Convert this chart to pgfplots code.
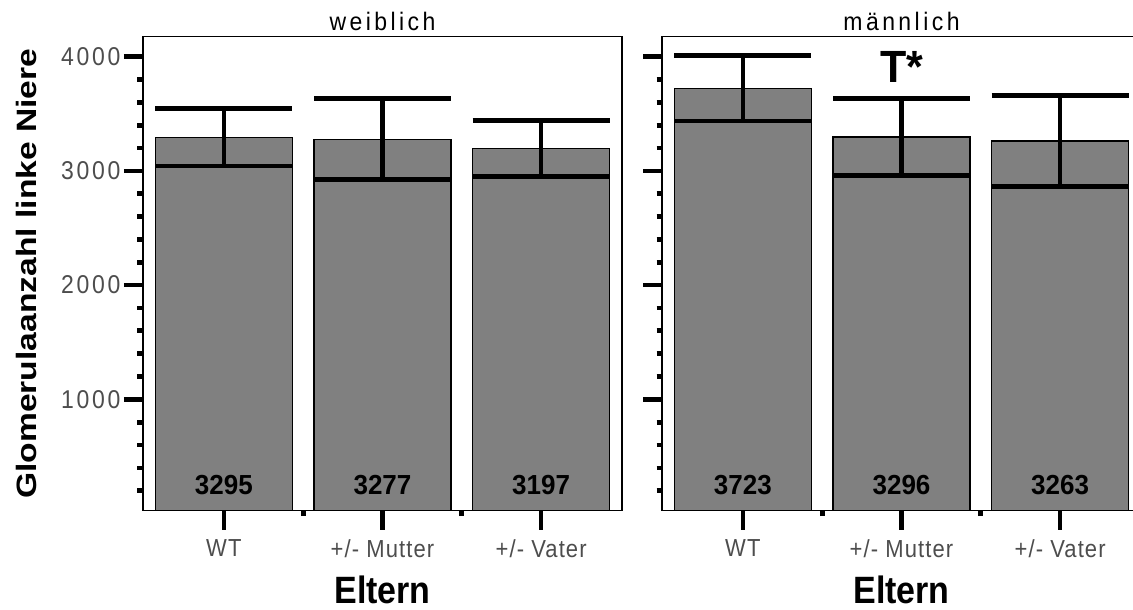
\documentclass[border=0pt]{standalone}
\usepackage{fontspec}
\setmainfont{Liberation Sans}
\newfontfamily\tickfont[LetterSpace=5]{Liberation Sans}
\newfontfamily\ytickfont[LetterSpace=12]{Liberation Sans}
\newfontfamily\titlefont[LetterSpace=15]{Liberation Sans}
\usepackage{pgfplots}
\pgfplotsset{compat=1.18}
\usepackage{pgfplotstable}
\definecolor{bargray}{RGB}{128,128,128}
\definecolor{ticktext}{RGB}{77,77,77}

\pgfplotstableread{
x y err
0 3295 252
1 3277 355
2 3197 246
}\weiblich
\pgfplotstableread{
x y err
0 3723 285
1 3296 335
2 3263 400
}\maennlich

\pgfplotsset{
 panel/.style={
  scale only axis, width=479pt, height=474pt,
  xmin=-0.51, xmax=2.51, ymin=25, ymax=4175,
  axis line style={line width=1.3pt, black},
  tick pos=left, tick align=outside,
  xtick={0,1,2}, xticklabels={WT,+/- Mutter,+/- Vater},
  minor xtick={0.5,1.5},
  ytick={1000,2000,3000,4000},
  minor ytick={200,400,600,800,1200,1400,1600,1800,2200,2400,2600,2800,3200,3400,3600,3800},
  major tick length=19pt, minor tick length=5.5pt,
  tick style={line width=4.7pt, black},
  xticklabel style={font=\tickfont\fontsize{22}{22}\selectfont, text=ticktext, yscale=1.12, yshift=-5pt},
  yticklabel style={font=\ytickfont\fontsize{23}{23}\selectfont, text=ticktext, yscale=1.12},
  /pgf/number format/assume math mode=true,
  /pgf/number format/1000 sep={},
  every axis title/.style={at={(axis description cs:0.5,1)}, anchor=base, yshift=6pt, yscale=1.1, font=\titlefont\fontsize{23}{23}\selectfont},
  every axis x label/.style={at={(axis description cs:0.5,-0.1667)}, anchor=center, yscale=1.12, font=\bfseries\fontsize{34}{34}\selectfont},
  every axis y label/.style={at={(axis description cs:-0.244,0.5)}, rotate=90, xscale=1.2, anchor=center, font=\bfseries\fontsize{28}{28}\selectfont},
  xlabel={Eltern},
 },
 barplot/.style={ybar, bar width=137pt, fill=bargray, draw=black, line width=1.3pt,
   error bars/.cd, y dir=both, y explicit,
   error bar style={line width=4.7pt, black},
   error mark options={rotate=90, line width=4.7pt, mark size=68.5pt, black}},
 vallabel/.style={only marks, mark=none, point meta=explicit symbolic, nodes near coords,
   every node near coord/.append style={anchor=center, yscale=1.06, font=\bfseries\fontsize{26}{26}\selectfont, text=black}},
}

\begin{document}
\begin{tikzpicture}
\useasboundingbox (0,0) rectangle (1133pt,-610pt);
\begin{axis}[panel, at={(143pt,-510.7pt)}, anchor=south west,
  title={weiblich}, ylabel={Glomerulaanzahl linke Niere}]
\addplot[barplot] table[x=x, y=y, y error=err] {\weiblich};
\addplot[vallabel] coordinates {(0,246) [3295] (1,246) [3277] (2,246) [3197]};
\end{axis}
\begin{axis}[panel, at={(662pt,-510.7pt)}, anchor=south west,
  title={männlich}, yticklabels={}]
\addplot[barplot] table[x=x, y=y, y error=err] {\maennlich};
\addplot[vallabel] coordinates {(0,246) [3723] (1,246) [3296] (2,246) [3263]};
\node[font=\bfseries\fontsize{43}{43}\selectfont, anchor=center, yscale=1.05] at (axis cs:1,3912) {T*};
\end{axis}
\end{tikzpicture}
\end{document}
